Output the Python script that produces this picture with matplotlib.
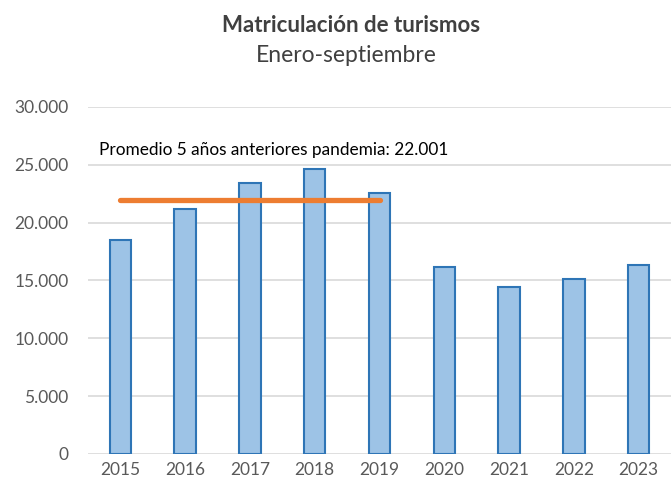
import numpy as np
import matplotlib.pyplot as plt

years = ['2015', '2016', '2017', '2018', '2019', '2020', '2021', '2022', '2023']
registrations = [18460, 21200, 23400, 24600, 22600, 16180, 14450, 15160, 16300]
prepandemic_avg = 22001
avg_years = ['2015', '2019']

plt.rcParams['font.family'] = ['Lato', 'DejaVu Sans']

fig = plt.figure(figsize=(6.71, 4.88), dpi=100)
ax = fig.add_axes([88 / 671, 34 / 488, 583 / 671, 347 / 488])

x = np.arange(len(years))
ax.bar(x, registrations, width=0.33, color='#9DC3E6', edgecolor='#2E75B6',
       linewidth=1.5, zorder=2)

x0, x1 = years.index(avg_years[0]), years.index(avg_years[1])
ax.plot([x0, x1], [prepandemic_avg, prepandemic_avg], color='#ED7D31',
        linewidth=3.8, solid_capstyle='round', zorder=3)
ax.text(-0.33, 25000 + 600, 'Promedio 5 años anteriores pandemia: 22.001',
        fontsize=12.4, color='#000000', va='bottom', ha='left')

ax.set_xlim(-0.5, len(years) - 0.5)
ax.set_ylim(0, 30000)
ax.set_yticks(np.arange(0, 30001, 5000))
ax.set_yticklabels(['0' if v == 0 else f'{v:,}'.replace(',', '.')
                    for v in range(0, 30001, 5000)])
ax.set_xticks(x)
ax.set_xticklabels(years)
ax.tick_params(axis='both', length=0, labelsize=12.5, colors='#595959')
ax.tick_params(axis='y', pad=14)
ax.tick_params(axis='x', pad=6)
ax.grid(axis='y', color='#D9D9D9', linewidth=1.2, zorder=0)
for s in ax.spines.values():
    s.set_visible(False)

fig.text(0.523, 0.948, 'Matriculación de turismos', ha='center', va='center',
         fontsize=16, fontweight='bold', color='#404040')
fig.text(0.516, 0.886, 'Enero-septiembre', ha='center', va='center',
         fontsize=16.5, color='#404040')

fig.savefig('out.png', dpi=100)
